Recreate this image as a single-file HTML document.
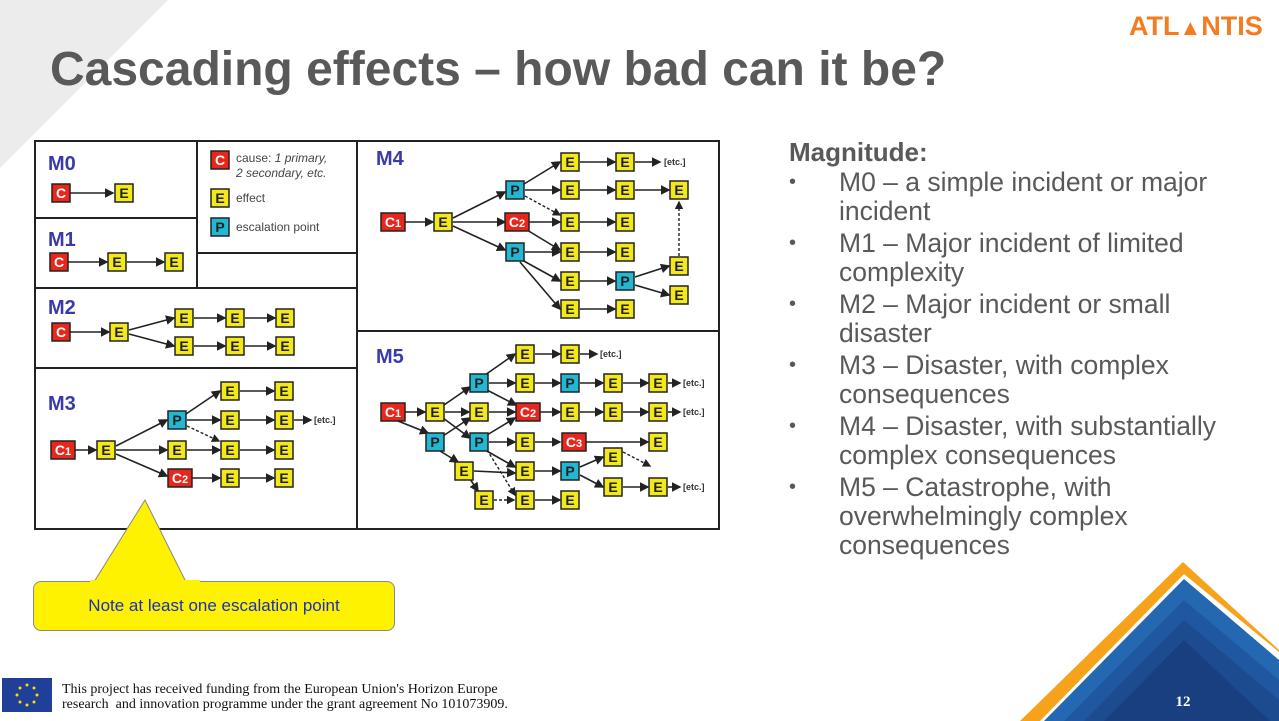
<!DOCTYPE html>
<html><head><meta charset="utf-8"><style>
html,body{margin:0;padding:0;background:#fff}
body{width:1279px;height:721px;position:relative;overflow:hidden;font-family:"Liberation Sans",sans-serif}
.t{position:absolute;white-space:nowrap}
</style></head><body>
<svg width="1279" height="721" style="position:absolute;left:0;top:0" font-family="Liberation Sans, sans-serif">
<defs>
<marker id="a" markerWidth="6" markerHeight="6" refX="5" refY="3" orient="auto"><path d="M0,0L6,3L0,6z" fill="#222"/></marker>
</defs>
<polygon points="0,0 168,0 0,168" fill="#ececec"/>
<polygon points="1020,721 1183,562 1279,650 1279,721" fill="#f7a21b"/>
<polygon points="1040,721 1184,574 1279,652 1279,721" fill="#ffffff"/>
<polygon points="1044,721 1184,579 1279,660 1279,721" fill="#2368b0"/>
<polygon points="1064,721 1184,600 1279,680 1279,721" fill="#1f58a0"/>
<polygon points="1084,721 1184,620 1279,700 1279,721" fill="#1c4b8f"/>
<polygon points="1104,721 1184,640 1270,721" fill="#193f80"/>
<text x="1183" y="706" fill="#fff" font-family="Liberation Serif, serif" font-weight="bold" font-size="15" text-anchor="middle">12</text>
<g stroke="#222" stroke-width="2" fill="none">
<rect x="35" y="141" width="684" height="388"/>
<line x1="197" y1="141" x2="197" y2="288"/>
<line x1="35" y1="218" x2="197" y2="218"/>
<line x1="197" y1="253" x2="357" y2="253"/>
<line x1="35" y1="288" x2="357" y2="288"/>
<line x1="35" y1="368" x2="357" y2="368"/>
<line x1="357" y1="141" x2="357" y2="529"/>
<line x1="357" y1="331" x2="719" y2="331"/>
</g>
<g font-weight="bold" font-size="20" fill="#3a3aa8">
<text x="48" y="170">M0</text><text x="48" y="246">M1</text><text x="48" y="314">M2</text><text x="48" y="410">M3</text><text x="376" y="165">M4</text><text x="376" y="363">M5</text>
</g>
<g fill="#444" font-size="12">
<text x="236" y="162">cause: <tspan font-style="italic">1 primary,</tspan></text>
<text x="236" y="177" font-style="italic">2 secondary, etc.</text>
<text x="236" y="202">effect</text>
<text x="236" y="231">escalation point</text>
</g>
<g stroke="#222" stroke-width="1.6" marker-end="url(#a)">
<line x1="70" y1="193" x2="113" y2="193"/>
<line x1="68" y1="262" x2="107" y2="262"/><line x1="127" y1="262" x2="164" y2="262"/>
<line x1="70" y1="332" x2="109" y2="332"/>
<line x1="129" y1="330" x2="174" y2="318"/><line x1="129" y1="334" x2="174" y2="346"/>
<line x1="194" y1="318" x2="225" y2="318"/><line x1="245" y1="318" x2="275" y2="318"/>
<line x1="194" y1="346" x2="225" y2="346"/><line x1="245" y1="346" x2="275" y2="346"/>
<line x1="73" y1="450" x2="96" y2="450"/>
<line x1="116" y1="446" x2="167" y2="420"/><line x1="116" y1="450" x2="167" y2="450"/><line x1="116" y1="454" x2="167" y2="476"/>
<line x1="186" y1="414" x2="220" y2="391"/><line x1="187" y1="420" x2="220" y2="420"/><line x1="187" y1="450" x2="220" y2="450"/><line x1="192" y1="478" x2="220" y2="478"/>
<line x1="240" y1="391" x2="274" y2="391"/><line x1="240" y1="420" x2="274" y2="420"/><line x1="240" y1="450" x2="274" y2="450"/><line x1="240" y1="478" x2="274" y2="478"/>
<line x1="294" y1="420" x2="311" y2="420"/>
<line x1="405" y1="222" x2="433" y2="222"/>
<line x1="453" y1="218" x2="505" y2="192"/><line x1="453" y1="222" x2="505" y2="222"/><line x1="453" y1="226" x2="505" y2="250"/>
<line x1="524" y1="184" x2="560" y2="162"/><line x1="525" y1="190" x2="560" y2="190"/><line x1="529" y1="222" x2="560" y2="222"/><line x1="527" y1="230" x2="560" y2="250"/><line x1="525" y1="252" x2="560" y2="252"/><line x1="522" y1="260" x2="560" y2="281"/><line x1="520" y1="262" x2="560" y2="309"/>
<line x1="580" y1="162" x2="615" y2="162"/><line x1="580" y1="190" x2="615" y2="190"/><line x1="580" y1="222" x2="615" y2="222"/><line x1="580" y1="252" x2="615" y2="252"/><line x1="580" y1="281" x2="615" y2="281"/><line x1="580" y1="309" x2="615" y2="309"/>
<line x1="635" y1="162" x2="660" y2="162"/><line x1="635" y1="190" x2="669" y2="190"/><line x1="635" y1="277" x2="669" y2="266"/><line x1="635" y1="285" x2="669" y2="295"/>
<line x1="403" y1="412" x2="425" y2="412"/><line x1="398" y1="421" x2="428" y2="433"/>
<line x1="444" y1="405" x2="470" y2="387"/><line x1="445" y1="412" x2="469" y2="412"/><line x1="443" y1="418" x2="470" y2="438"/>
<line x1="443" y1="436" x2="470" y2="418"/><line x1="440" y1="451" x2="458" y2="462"/><line x1="470" y1="479" x2="478" y2="491"/>
<line x1="485" y1="375" x2="515" y2="354"/><line x1="489" y1="383" x2="515" y2="383"/><line x1="487" y1="390" x2="516" y2="405"/><line x1="489" y1="412" x2="515" y2="412"/>
<line x1="487" y1="435" x2="515" y2="418"/><line x1="489" y1="442" x2="515" y2="442"/><line x1="485" y1="450" x2="515" y2="467"/><line x1="474" y1="471" x2="515" y2="473"/>
<line x1="535" y1="354" x2="560" y2="354"/><line x1="535" y1="383" x2="560" y2="383"/><line x1="540" y1="412" x2="560" y2="412"/><line x1="535" y1="442" x2="560" y2="442"/><line x1="535" y1="471" x2="560" y2="471"/><line x1="535" y1="500" x2="560" y2="500"/>
<line x1="580" y1="354" x2="597" y2="354"/><line x1="580" y1="383" x2="603" y2="383"/><line x1="580" y1="412" x2="603" y2="412"/><line x1="585" y1="442" x2="648" y2="442"/><line x1="580" y1="467" x2="603" y2="457"/><line x1="580" y1="475" x2="603" y2="487"/>
<line x1="623" y1="383" x2="648" y2="383"/><line x1="623" y1="412" x2="648" y2="412"/><line x1="623" y1="487" x2="648" y2="487"/>
<line x1="668" y1="383" x2="680" y2="383"/><line x1="668" y1="412" x2="680" y2="412"/><line x1="668" y1="487" x2="680" y2="487"/>
</g>
<g stroke="#222" stroke-width="1.4" stroke-dasharray="3,2" marker-end="url(#a)">
<line x1="187" y1="426" x2="219" y2="441"/>
<line x1="525" y1="196" x2="560" y2="215"/>
<line x1="679" y1="256" x2="679" y2="202"/>
<line x1="623" y1="452" x2="650" y2="466"/>
<line x1="487" y1="450" x2="515" y2="495"/>
<line x1="494" y1="500" x2="514" y2="500"/>
</g>
<g font-size="9" font-weight="bold" fill="#333">
<text x="314" y="423">[etc.]</text><text x="664" y="165">[etc.]</text>
<text x="600" y="357">[etc.]</text><text x="683" y="386">[etc.]</text><text x="683" y="415">[etc.]</text><text x="683" y="490">[etc.]</text>
</g>
<g id="gen"></g>
</svg>
<div class="t" style="left:50px;top:42px;font-size:48px;font-weight:bold;color:#595959">Cascading effects – how bad can it be?</div>
<div class="t" style="left:1129px;top:11px;font-size:27px;font-weight:bold;color:#f47b20">ATL<span style="font-size:22px">▲</span>NTIS</div>
<div class="t" style="left:789px;top:137px;font-size:26px;font-weight:bold;color:#595959">Magnitude:</div>
<div id="bl" style="position:absolute;left:789px;top:168px;font-size:26.5px;color:#595959;line-height:29px;width:480px"></div>
<div style="position:absolute;left:33px;top:581px;width:360px;height:48px;background:#fff200;border:1px solid #888;border-radius:8px;font-size:17px;color:#1a2fbf;text-align:center;line-height:48px">Note at least one escalation point</div>
<svg width="200" height="100" style="position:absolute;left:80px;top:498px"><polygon points="65,2 14,84 106,84" fill="#fff200" stroke="#888" stroke-width="1"/><rect x="10" y="82" width="110" height="6" fill="#fff200"/></svg>
<div style="position:absolute;left:2px;top:678px;width:50px;height:34px;background:#1f3f99"></div>
<svg width="50" height="34" style="position:absolute;left:2px;top:678px"><g fill="#ffdd00"><circle cx="25" cy="7" r="1.5"/><circle cx="25" cy="27" r="1.5"/><circle cx="15" cy="17" r="1.5"/><circle cx="35" cy="17" r="1.5"/><circle cx="18" cy="10" r="1.5"/><circle cx="32" cy="10" r="1.5"/><circle cx="18" cy="24" r="1.5"/><circle cx="32" cy="24" r="1.5"/></g></svg>
<div class="t" style="left:62px;top:682px;font-family:'Liberation Serif',serif;font-size:14px;line-height:15px;color:#111">This project has received funding from the European Union's Horizon Europe<br>research &nbsp;and innovation programme under the grant agreement No 101073909.</div>
<script>
var G=document.getElementById('gen'),ns='http://www.w3.org/2000/svg';
var col={C:'#e8261c',E:'#f2e81a',P:'#22b8d4'};
function b(t,x,y,sub){var w=sub?24:18;var r=document.createElementNS(ns,'rect');r.setAttribute('x',x-w/2);r.setAttribute('y',y-9);r.setAttribute('width',w);r.setAttribute('height',18);r.setAttribute('fill',col[t]);r.setAttribute('stroke','#222');r.setAttribute('stroke-width','1.5');G.appendChild(r);
var s=document.createElementNS(ns,'text');s.setAttribute('x',x);s.setAttribute('y',y+5);s.setAttribute('text-anchor','middle');s.setAttribute('font-weight','bold');s.setAttribute('font-size','14');s.setAttribute('fill',t=='C'?'#fff':'#222');s.textContent=t;
if(sub){var ts=document.createElementNS(ns,'tspan');ts.setAttribute('font-size','11');ts.textContent=sub;s.appendChild(ts);}G.appendChild(s);}
b('C',220,160);b('E',220,198);b('P',220,227);
b('C',61,193);b('E',124,193);
b('C',59,262);b('E',117,262);b('E',174,262);
b('C',61,332);b('E',119,332);[184,235,285].forEach(function(x){b('E',x,318);b('E',x,346);});
b('C',63,450,'1');b('E',106,450);b('P',177,420);b('E',177,450);b('C',180,478,'2');
[391,420,450,478].forEach(function(y){b('E',230,y);b('E',284,y);});
b('C',393,222,'1');b('E',443,222);b('P',515,190);b('C',517,222,'2');b('P',515,252);
[162,190,222,252,281,309].forEach(function(y){b('E',570,y);});
[162,190,222,252,309].forEach(function(y){b('E',625,y);});b('P',625,281);
b('E',679,190);b('E',679,266);b('E',679,295);
b('C',393,412,'1');b('E',435,412);b('P',435,442);b('P',479,383);b('E',479,412);b('P',479,442);b('E',464,471);b('E',484,500);
b('E',525,354);b('E',525,383);b('C',528,412,'2');b('E',525,442);b('E',525,471);b('E',525,500);
b('E',570,354);b('P',570,383);b('E',570,412);b('C',574,442,'3');b('P',570,471);b('E',570,500);
b('E',613,383);b('E',613,412);b('E',613,457);b('E',613,487);
b('E',658,383);b('E',658,412);b('E',658,442);b('E',658,487);
var items=[["M0 – a simple incident or major","incident"],["M1 – Major incident of limited","complexity"],["M2 – Major incident or small","disaster"],["M3 – Disaster, with complex","consequences"],["M4 – Disaster, with substantially","complex consequences"],["M5 – Catastrophe, with","overwhelmingly complex","consequences"]];
var h='';items.forEach(function(it,i){h+='<div style="position:relative;padding-left:50px;margin-bottom:3px;white-space:nowrap"><span style="position:absolute;left:0;font-size:20px">•</span>'+it.join('<br>')+'</div>';});
document.getElementById('bl').innerHTML=h;
</script>
</body></html>
